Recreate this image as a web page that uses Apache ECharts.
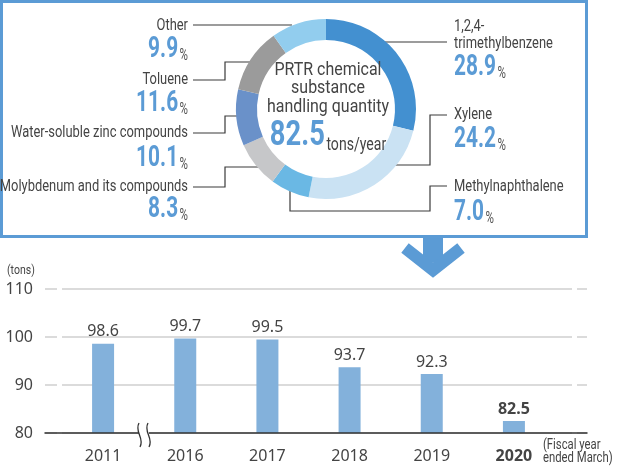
<!DOCTYPE html>
<html style="height: 100%">
<head>
    <meta charset="utf-8">
</head>
<body style="height: 100%; margin: 0; background: #fff">
<div id="container" style="width: 630px; height: 470px"></div>
<script type="text/javascript" src="https://cdn.jsdelivr.net/npm/echarts@6/dist/echarts.min.js"></script>
<script type="text/javascript">
    // donut: share of handling quantity by substance (%), clockwise from top
    const pieNames = ['1,2,4-trimethylbenzene', 'Xylene', 'Methylnaphthalene',
        'Molybdenum and its compounds', 'Water-soluble zinc compounds', 'Toluene', 'Other'];
    const pieLabels = ['1,2,4-\ntrimethylbenzene', 'Xylene', 'Methylnaphthalene',
        'Molybdenum and its compounds', 'Water-soluble zinc compounds', 'Toluene', 'Other'];
    const pieShares = [28.9, 24.2, 7.0, 8.3, 10.1, 11.6, 9.9];
    const pieColors = ['#4390d0', '#cae2f3', '#6ab8e4', '#c6c7c9', '#6a91c9', '#9b9b9b', '#92cdee'];
    const totalQty = '82.5';

    // bars: handling quantity by fiscal year (tons)
    const years = ['2011', '2016', '2017', '2018', '2019', '2020'];
    const amounts = [98.6, 99.7, 99.5, 93.7, 92.3, 82.5];
    const yMin = 80, yMax = 110, yStep = 10;

    const face = "Roboto, 'Noto Sans', sans-serif";
    const plain = "'Noto Sans', Roboto, sans-serif";
    const blue = '#5b9bd5';
    const ink = '#444';

    // no condensed face installed: squeeze text horizontally to the reference widths
    const measureCtx = document.createElement('canvas').getContext('2d');
    function squeeze(text, font, width) {
        measureCtx.font = font;
        return width / measureCtx.measureText(text).width;
    }
    const sLabel = squeeze('Water-soluble zinc compounds', '16px ' + face, 177);
    const sPct = squeeze('28.9', 'bold 29px ' + face, 42);
    const sCenter = squeeze('handling quantity', '18px ' + face, 122);
    const sBig = squeeze('82.5', 'bold 35px ' + face, 55);

    var dom = document.getElementById('container');
    var myChart = echarts.init(dom, null, {renderer: 'canvas'});

    // label layout for the donut (left side right-aligned, right side left-aligned)
    const labelPos = [
        {side: 'r', name: 35, pct: 67},
        {side: 'r', name: 115, pct: 139},
        {side: 'r', name: 187, pct: 212},
        {side: 'l', name: 187, pct: 209},
        {side: 'l', name: 133, pct: 158},
        {side: 'l', name: 80, pct: 103},
        {side: 'l', name: 26, pct: 49}
    ];
    const leaders = [
        [[380, 42], [447, 42]],
        [[392, 165], [430, 165], [430, 115], [447, 115]],
        [[290, 188], [290, 211], [430, 211], [430, 186], [447, 186]],
        [[262, 167], [225, 167], [225, 187], [193, 187]],
        [[242, 116], [225, 116], [225, 133], [193, 133]],
        [[254, 62], [225, 62], [225, 80], [193, 80]],
        [[292, 25], [193, 25]]
    ];

    const graphics = [];
    graphics.push({
        type: 'rect', z: 0,
        shape: {x: 1.5, y: 1.5, width: 585, height: 235},
        style: {fill: null, stroke: blue, lineWidth: 3}
    });
    leaders.forEach(function (pts) {
        graphics.push({type: 'polyline', z: 0, shape: {points: pts}, style: {stroke: '#3a3a3a', lineWidth: 1.2, fill: null}});
    });
    pieLabels.forEach(function (lab, i) {
        const p = labelPos[i];
        const x = p.side === 'l' ? 188 : 454;
        const align = p.side === 'l' ? 'right' : 'left';
        graphics.push({
            type: 'text', z: 10, x: x, y: p.name, scaleX: sLabel,
            style: {
                x: 0, y: 0, text: lab, align: align, verticalAlign: 'middle',
                font: '16px ' + face, fill: ink, lineHeight: 17
            }
        });
        graphics.push({
            type: 'text', z: 10, x: x, y: p.pct, scaleX: sPct,
            style: {
                x: 0, y: 0, align: align, verticalAlign: 'middle',
                text: '{n|' + pieShares[i].toFixed(1) + '}{p|%}',
                rich: {
                    n: {fontFamily: face, fontWeight: 'bold', fontSize: 29, fill: blue, lineHeight: 30, verticalAlign: 'bottom'},
                    p: {fontFamily: face, fontSize: 16, fill: '#555', lineHeight: 22, verticalAlign: 'bottom', padding: [0, 0, 0, 2]}
                }
            }
        });
    });
    // centre of donut
    ['PRTR chemical', 'substance', 'handling quantity'].forEach(function (t, i) {
        graphics.push({
            type: 'text', z: 10, x: 328, y: 70 + i * 18.5, scaleX: sCenter,
            style: {x: 0, y: 0, text: t, align: 'center', verticalAlign: 'middle', font: '18px ' + face, fill: ink}
        });
    });
    graphics.push({
        type: 'text', z: 10, x: 328, y: 136, scaleX: sBig,
        style: {
            x: 0, y: 0, align: 'center', verticalAlign: 'middle',
            text: '{a|' + totalQty + '}{b|tons/year}',
            rich: {
                a: {fontFamily: face, fontWeight: 'bold', fontSize: 35, fill: blue, lineHeight: 36, verticalAlign: 'bottom'},
                b: {fontFamily: face, fontSize: 18, fill: ink, lineHeight: 26, verticalAlign: 'bottom', padding: [0, 0, 0, 2]}
            }
        }
    });
    // arrow
    graphics.push({type: 'rect', z: 0, shape: {x: 423, y: 238, width: 20, height: 24}, style: {fill: blue}});
    graphics.push({type: 'polyline', z: 0, shape: {points: [[405, 248], [433, 270], [461, 248]]},
        style: {stroke: blue, lineWidth: 12, fill: null, lineJoin: 'miter'}});
    // axis break mark
    graphics.push({type: 'rect', z: 100, shape: {x: 139, y: 430, width: 10, height: 6}, style: {fill: '#fff'}});
    [139, 148].forEach(function (bx) {
        graphics.push({type: 'bezierCurve', z: 101,
            shape: {x1: bx, y1: 423, cpx1: bx - 5, cpy1: 432, cpx2: bx + 6, cpy2: 438, x2: bx + 1, y2: 447},
            style: {stroke: '#333', lineWidth: 1.3, fill: null}});
    });
    // unit texts
    graphics.push({type: 'text', z: 10, x: 7, y: 271, scaleX: sLabel,
        style: {x: 0, y: 0, text: '(tons)', align: 'left', verticalAlign: 'middle', font: '13px ' + face, fill: ink}});
    graphics.push({type: 'text', z: 10, x: 543, y: 452, scaleX: sLabel,
        style: {x: 0, y: 0, text: '(Fiscal year\nended March)', align: 'left', verticalAlign: 'middle', font: '14px ' + face, fill: ink, lineHeight: 13}});

    var option = {
        animation: false,
        backgroundColor: '#fff',
        graphic: graphics,
        grid: [
            {left: 45, right: 43, top: 289, bottom: 37},
            {left: 62, right: 75, top: 289, bottom: 37}
        ],
        xAxis: [
            {
                gridIndex: 0, type: 'value', min: 0, max: 1, z: 5,
                axisLine: {show: true, onZero: false, lineStyle: {color: '#333', width: 1.5}},
                axisTick: {show: false}, axisLabel: {show: false}, splitLine: {show: false}
            },
            {
                gridIndex: 1, type: 'category', data: years,
                axisLine: {show: false}, axisTick: {show: false},
                axisLabel: {
                    interval: 0, margin: 15, color: ink, fontSize: 16, fontFamily: plain,
                    formatter: function (v, i) { return i === years.length - 1 ? '{b|' + v + '}' : v; },
                    rich: {b: {fontWeight: 'bold', fontSize: 16, fontFamily: plain, color: ink}}
                }
            }
        ],
        yAxis: [
            {
                gridIndex: 0, type: 'value', min: yMin, max: yMax, interval: yStep,
                axisLine: {show: false}, axisTick: {show: false},
                axisLabel: {margin: 12, color: ink, fontSize: 16, fontFamily: plain},
                splitLine: {lineStyle: {color: '#cfcfcf', width: 1.5, type: [12, 5, 510, 5, 10, 5]}}
            },
            {
                gridIndex: 1, type: 'value', min: yMin, max: yMax, interval: yStep,
                show: false, splitLine: {show: false}
            }
        ],
        series: [
            {
                type: 'pie',
                center: [326, 109],
                radius: [69, 90],
                startAngle: 90,
                clockwise: true,
                silent: true,
                label: {show: false},
                labelLine: {show: false},
                itemStyle: {borderWidth: 0},
                data: pieNames.map(function (n, i) {
                    return {name: n, value: pieShares[i], itemStyle: {color: pieColors[i]}};
                })
            },
            {
                type: 'bar',
                xAxisIndex: 1, yAxisIndex: 1,
                barWidth: 22,
                itemStyle: {color: '#83b1db'},
                label: {
                    show: true, position: 'top', distance: 4,
                    color: ink, fontSize: 16, fontFamily: plain
                },
                data: amounts.map(function (v, i) {
                    return i === amounts.length - 1 ? {value: v, label: {fontWeight: 'bold'}} : v;
                })
            }
        ]
    };

    if (option && typeof option === 'object') {
        myChart.setOption(option);
    }
</script>
</body>
</html>
